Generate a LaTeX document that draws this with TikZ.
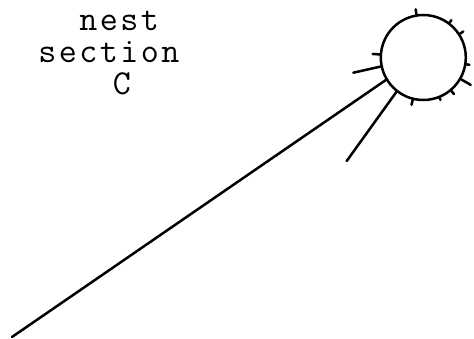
\documentclass[tikz,border=0pt]{standalone}
\usepackage{fontspec}
\makeatletter
\newcommand\spreadtext[1]{\@tfor\spr@c:=#1\do{\makebox[20.5pt]{\spr@c}}}
\makeatother
\begin{document}
\begin{tikzpicture}[x=1pt,y=-1pt,
  ink/.style={line width=2.5pt,black,line cap=round},
  lbl/.style={anchor=base west,inner sep=0pt,font=\ttfamily\fontsize{35}{37}\selectfont\addfontfeature{FakeBold=2}}]
\useasboundingbox (0,0) rectangle (474,339);
\node[lbl] (t1) at (78,30.5) {\spreadtext{nest}};
\node[lbl] (t2) at (37,63) {\spreadtext{section}};
\node[lbl] (t3) at (111.5,95) {\spreadtext{C}};
\node[draw,circle,ink,minimum size=85pt,inner sep=0pt] (c) at (423.3,57.5) {};
\coordinate (e1) at (12,337);
\coordinate (e2) at (346.7,161);
\coordinate (e3) at (353.3,72.7);
\draw[ink] (c.211) -- (e1);
\draw[ink] (c.232) -- (e2);
\draw[ink] (c.192) -- (e3);
\foreach \a/\l in {99/5,53/3,33/4,-9.5/3,-30/11,-50/4,-68/2,-104/5,176/7}
  \draw[ink] (c.\a) -- ++(\a:\l pt);
\end{tikzpicture}
\end{document}
